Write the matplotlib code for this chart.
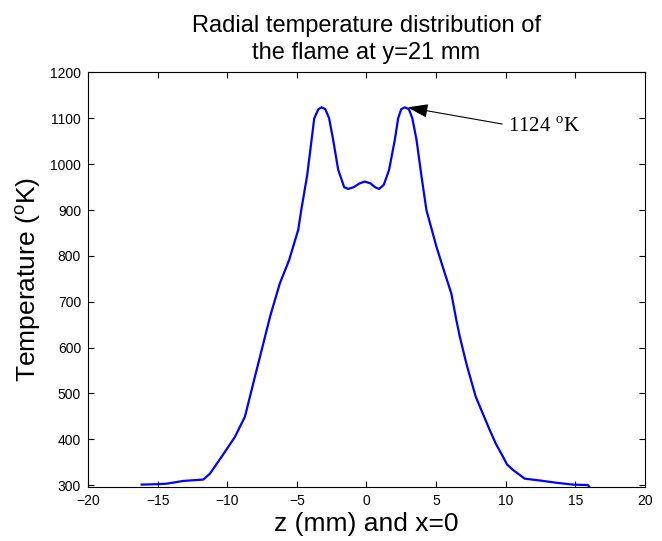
import matplotlib
matplotlib.use('Agg')
import matplotlib.pyplot as plt

# radial temperature profile
z = [-16.15, -15.0, -14.35, -13.16, -12.2, -11.72, -11.24, -10.9, -10.4, -10.0,
     -9.45, -8.73, -8.13, -7.53, -7.3, -6.9, -6.22, -5.55, -4.9, -4.66,
     -4.26, -3.94, -3.75, -3.45, -3.22, -2.95, -2.68, -2.39, -2.03, -1.6,
     -1.31, -0.9, -0.5, -0.12, 0.3, 0.6, 0.91, 1.25, 1.63, 2.04,
     2.28, 2.5, 2.76, 3.05, 3.3, 3.6, 3.95, 4.31, 5.03, 5.63,
     6.1, 6.46, 6.7, 7.18, 7.85, 8.86, 9.3, 9.81, 10.1, 10.53,
     11.37, 12.45, 13.65, 14.84, 15.91, 16.0]
temp = [301, 302, 303, 309, 311, 312, 325, 340, 362, 380,
        405, 449, 522, 594, 622, 670, 740, 791, 857, 904,
        975, 1053, 1100, 1120, 1124, 1120, 1100, 1053, 988, 950,
        946, 950, 958, 962, 958, 950, 946, 955, 988, 1053,
        1100, 1120, 1124, 1120, 1100, 1053, 975, 900, 820, 762,
        718, 660, 625, 565, 493, 420, 390, 362, 345, 333,
        314, 310, 305, 301, 300, 297]

x_ticks = [-20, -15, -10, -5, 0, 5, 10, 15, 20]
y_ticks = [300, 400, 500, 600, 700, 800, 900, 1000, 1100, 1200]

plt.rcParams['font.family'] = 'Liberation Sans'

fig = plt.figure(figsize=(6.62, 5.41), dpi=100)
ax = fig.add_axes([0.133, 0.1, 0.841, 0.766])

ax.plot(z, temp, color='#0000ff', linewidth=1.6)

ax.set_xlim(-20, 20)
ax.set_ylim(296, 1200)
ax.set_xticks(x_ticks)
ax.set_yticks(y_ticks)
ax.tick_params(direction='in', length=4, width=0.8, labelsize=10,
               top=True, right=True, pad=5)
for s in ax.spines.values():
    s.set_linewidth(0.8)

ax.set_title('Radial temperature distribution of\nthe flame at y=21 mm',
             fontsize=17, pad=10, linespacing=1.3)
ax.set_xlabel('z (mm) and x=0', fontsize=19, labelpad=3)
ax.set_ylabel(r'Temperature ($^{\mathregular{o}}$K)', fontsize=19, labelpad=5)

ax.annotate(r'1124 $^{\mathregular{o}}$K', xy=(2.95, 1124), xytext=(10.15, 1071),
            fontsize=15, family='Liberation Serif', ha='left', va='baseline',
            arrowprops=dict(arrowstyle='-|>,head_length=0.9,head_width=0.3',
                            color='black', lw=0.8, mutation_scale=14,
                            relpos=(0, 0.6), shrinkA=2, shrinkB=0))

fig.savefig('out.png', dpi=100)
